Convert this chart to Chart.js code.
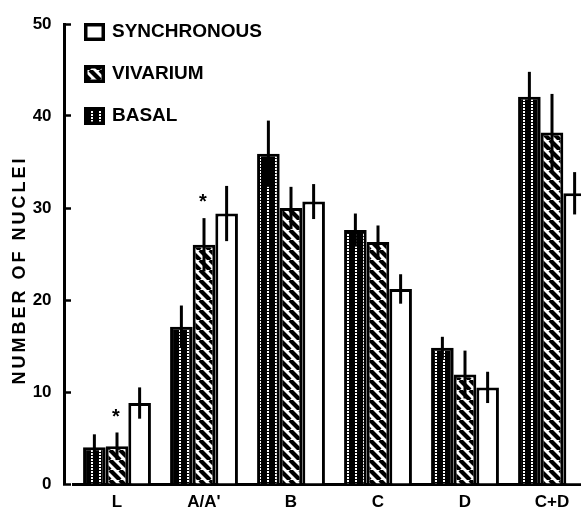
<!DOCTYPE html>
<html>
<head>
<meta charset="utf-8">
<script src="https://cdn.jsdelivr.net/npm/chart.js@4.4.1/dist/chart.umd.min.js"></script>
<style>
    html, body { margin: 0; padding: 0; background: #fff; overflow: hidden; }
    #wrap { width: 600px; height: 523px; }
</style>
</head>
<body>
<div id="wrap"><canvas id="chart" width="600" height="523"></canvas></div>
<script>
// values
const categories = ['L', "A/A'", 'B', 'C', 'D', 'C+D'];
const seriesNames = ['BASAL', 'VIVARIUM', 'SYNCHRONOUS'];
const basal = [4.0, 17.1, 35.9, 27.6, 14.8, 42.1];
const basalErr = [1.4, 2.3, 3.6, 1.8, 1.2, 2.7];
const vivarium = [4.1, 26.0, 30.0, 26.3, 11.9, 38.2];
const vivariumErr = [1.5, 2.9, 2.3, 1.8, 2.6, 4.2];
const synchronous = [8.8, 29.4, 30.7, 21.2, 10.5, 31.6];
const synchronousErr = [1.7, 3.0, 1.9, 1.6, 1.7, 2.3];
const vivariumStar = [true, true, false, false, false, false];
const yTicks = [0, 10, 20, 30, 40, 50];

const FONT = '"Liberation Sans", Arial, sans-serif';

function makePattern(w, h, paint) {
    const c = document.createElement('canvas');
    c.width = w;
    c.height = h;
    paint(c.getContext('2d'), w, h);
    return document.getElementById('chart').getContext('2d').createPattern(c, 'repeat');
}

// basal: black with columns of white dots
const basalFill = makePattern(8, 3, (g, w, h) => {
    g.fillStyle = '#000';
    g.fillRect(0, 0, w, h);
    g.fillStyle = '#fff';
    g.fillRect(3, 0, 2, 2);
});

// vivarium: "\" hatching
const vivariumFill = makePattern(10, 10, (g, w, h) => {
    g.fillStyle = '#fff';
    g.fillRect(0, 0, w, h);
    g.strokeStyle = '#000';
    g.lineWidth = 4.2;
    for (let k = -1; k <= 1; k++) {
        g.beginPath();
        g.moveTo(k * w, 0);
        g.lineTo(k * w + w, h);
        g.stroke();
    }
});

const fills = [basalFill, vivariumFill, '#fff'];
const values = [basal, vivarium, synchronous];
const errors = [basalErr, vivariumErr, synchronousErr];

// error bars + asterisks, drawn with the chart's own scales
const errorBars = {
    id: 'errorBars',
    afterDatasetsDraw(chart) {
        const ctx = chart.ctx;
        const y = chart.scales.y;
        ctx.save();
        ctx.strokeStyle = '#000';
        ctx.lineWidth = 3;
        chart.data.datasets.forEach((ds, i) => {
            const meta = chart.getDatasetMeta(i);
            meta.data.forEach((bar, j) => {
                const v = ds.data[j];
                const e = errors[i][j];
                ctx.beginPath();
                ctx.moveTo(bar.x, y.getPixelForValue(v - e));
                ctx.lineTo(bar.x, y.getPixelForValue(v + e));
                ctx.stroke();
                if (i === 1 && vivariumStar[j]) {
                    ctx.fillStyle = '#000';
                    ctx.font = 'bold 20px ' + FONT;
                    ctx.textAlign = 'center';
                    ctx.textBaseline = 'middle';
                    ctx.fillText('*', bar.x - 1, y.getPixelForValue(v + e + 2.1) + 4);
                }
            });
        });
        ctx.restore();
    }
};

// legend inside the plot + rotated axis title
const decorations = {
    id: 'decorations',
    afterDraw(chart) {
        const ctx = chart.ctx;
        ctx.save();
        const order = [2, 1, 0];
        order.forEach((idx, row) => {
            const top = 23 + row * 42;
            ctx.fillStyle = fills[idx];
            ctx.fillRect(84, top, 21, 18);
            ctx.strokeStyle = '#000';
            ctx.lineWidth = 3.5;
            ctx.strokeRect(85.75, top + 1.75, 17.5, 14.5);
            ctx.fillStyle = '#000';
            ctx.font = 'bold 19px ' + FONT;
            ctx.textAlign = 'left';
            ctx.textBaseline = 'middle';
            ctx.fillText(seriesNames[idx], 112, top + 9);
        });

        ctx.translate(20, 270);
        ctx.rotate(-Math.PI / 2);
        ctx.font = 'bold 18px ' + FONT;
        ctx.letterSpacing = '3px';
        ctx.textAlign = 'center';
        ctx.textBaseline = 'middle';
        ctx.fillText('NUMBER OF NUCLEI', 0, 0);
        ctx.restore();
    }
};

const ctx = document.getElementById('chart').getContext('2d');
const chart = new Chart(ctx, {
    type: 'bar',
    data: {
        labels: categories,
        datasets: values.map((data, i) => ({
            label: seriesNames[i],
            data: data,
            backgroundColor: fills[i],
            borderColor: '#000',
            borderWidth: 3,
            borderSkipped: 'start',
            categoryPercentage: 0.78,
            barPercentage: 1.0
        }))
    },
    options: {
        responsive: false,
        animation: false,
        layout: {
            padding: { left: 73.5, right: 4.5, top: 24, bottom: 2 }
        },
        plugins: {
            legend: { display: false },
            tooltip: { enabled: false }
        },
        scales: {
            x: {
                grid: { drawOnChartArea: false, drawTicks: false },
                border: { display: true, color: '#000', width: 3 },
                ticks: {
                    padding: 10,
                    color: '#000',
                    font: { family: FONT, size: 17, weight: 'bold', lineHeight: 1.0 }
                }
            },
            y: {
                // axis line sits a little left of the first category
                position: { x: -0.6 },
                min: 0,
                max: 50,
                afterBuildTicks: (scale) => {
                    scale.ticks = yTicks.map(v => ({ value: v }));
                },
                grid: {
                    drawOnChartArea: false,
                    drawTicks: true,
                    tickLength: -8,
                    tickWidth: 2.5,
                    color: '#000'
                },
                border: { display: true, color: '#000', width: 3 },
                ticks: {
                    color: '#000',
                    font: { family: FONT, size: 17, weight: 'bold' },
                    // keep a gap between labels and the axis line
                    callback: (v) => v + '\u2002 '
                }
            }
        }
    },
    plugins: [errorBars, decorations]
});
</script>
</body>
</html>
